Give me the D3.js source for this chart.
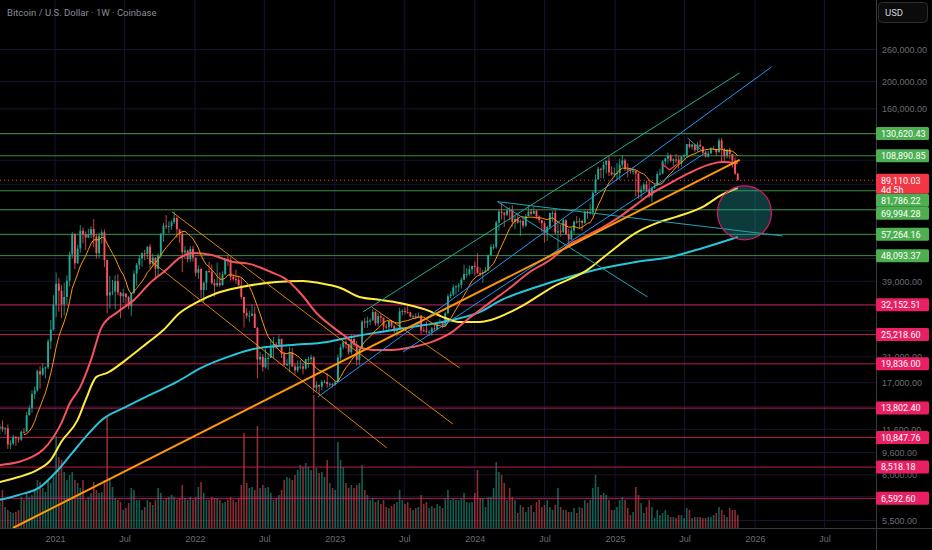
<!DOCTYPE html>
<meta charset="utf-8">
<style>
body{margin:0;background:#000;}
svg{display:block;font-family:Roboto,"Liberation Sans",Arial,sans-serif;}
.axis path,.axis line{display:none;}
.axis text{fill:#6a6d78;font-size:9px;}
</style>
<svg width="932" height="550"></svg>
<script src="https://d3js.org/d3.v7.min.js"></script>
<script>
// ---- data (prices of candles in thousand USD, weekly bars from Mon 10 Aug 2020) ----
var title = "Bitcoin / U.S. Dollar · 1W · Coinbase";
var firstWeek = Date.UTC(2020, 7, 10);
var firstOpen = 11.7;
var closes = [
  11.85,11.65,11.70,10.25,10.33,10.93,10.77,10.67,11.38,11.37,
  13.03,13.80,15.48,15.96,18.68,18.18,19.15,19.27,23.85,26.27,
  32.20,38.20,36.07,32.26,34.28,39.20,48.60,57.50,45.20,50.97,
  59.00,57.35,55.80,57.06,59.80,56.20,49.00,56.60,58.20,46.40,
  34.70,35.60,35.80,39.00,35.60,34.50,35.30,34.25,31.80,35.40,
  41.50,44.60,47.00,49.00,48.80,51.75,45.00,47.30,43.20,48.20,
  57.50,61.50,61.30,61.30,63.30,65.50,59.70,57.30,49.40,50.10,
  46.70,50.80,47.30,41.80,43.10,36.30,38.50,42.40,42.20,38.40,
  37.70,38.40,37.80,41.30,46.80,46.40,40.40,39.70,39.50,37.70,
  34.30,30.10,29.40,29.40,29.90,26.60,20.55,21.00,19.30,20.80,
  20.80,22.60,23.30,23.20,24.30,21.50,19.60,19.80,21.80,19.40,
  18.80,19.40,19.40,19.07,20.60,20.60,20.90,16.30,16.70,16.45,
  17.10,17.10,16.80,16.84,16.70,17.10,20.90,22.70,23.70,23.30,
  21.80,24.30,23.20,20.50,22.40,28.00,27.80,28.20,28.30,30.30,
  27.60,29.30,28.90,26.90,26.75,28.10,27.10,25.90,26.30,30.50,
  30.60,30.30,30.20,29.20,29.30,29.00,29.40,26.10,26.00,25.80,
  25.80,26.50,26.30,27.90,27.90,27.10,30.00,34.50,35.00,37.10,
  37.40,37.80,39.50,41.40,41.40,43.00,44.20,43.90,41.70,41.60,
  42.00,42.60,48.30,51.60,51.70,63.10,68.90,68.30,67.20,69.60,
  69.40,63.40,64.90,63.10,63.90,61.50,66.30,69.00,67.80,69.30,
  66.20,64.30,62.70,58.20,60.80,68.20,68.20,58.10,58.70,58.40,
  64.20,57.30,54.90,59.10,63.60,63.30,63.90,62.90,69.00,68.00,
  68.70,80.40,89.80,97.90,97.30,101.20,104.50,95.20,93.40,94.40,
  94.50,101.30,104.80,97.70,97.50,96.10,96.30,94.20,80.70,82.60,
  86.10,82.40,78.40,83.70,85.00,93.80,94.30,104.10,106.50,109.00,
  104.60,105.70,105.60,102.20,108.40,109.20,119.80,117.30,119.40,114.20,
  119.30,117.40,111.80,108.30,111.10,115.30,115.30,112.10,123.50,115.20,
  108.60,114.60,110.60,104.70,94.20,89.11
];
var highs = [
  12.08,12.48,11.80,12.09,10.60,11.10,10.96,10.95,11.49,11.72,
  13.35,14.10,15.97,16.48,18.96,19.48,19.92,19.42,24.30,28.40,
  34.80,41.95,40.10,37.85,38.50,41.00,49.70,58.35,57.50,52.60,
  61.80,60.60,58.60,60.00,61.20,64.90,57.50,58.00,59.50,59.60,
  46.60,40.80,39.40,40.90,41.30,35.70,36.60,35.10,34.60,35.50,
  42.60,45.30,48.10,49.40,50.50,51.90,52.90,48.80,47.40,49.00,
  57.80,62.90,67.00,63.70,64.30,69.00,66.40,59.40,59.20,51.90,
  50.50,52.00,52.10,47.50,44.40,43.50,38.90,42.60,45.80,44.70,
  39.70,45.40,42.00,42.30,47.00,48.20,47.40,41.50,42.90,40.80,
  40.00,34.30,31.30,30.60,32.40,31.70,26.80,21.90,21.50,22.50,
  21.60,24.30,24.70,23.70,25.20,24.40,21.90,20.60,22.80,22.60,
  19.90,20.40,20.50,19.95,20.70,21.00,21.40,21.10,17.20,16.70,
  17.40,17.40,18.40,17.00,16.95,17.20,21.40,23.30,23.90,24.25,
  23.40,25.20,25.10,23.90,22.60,28.40,28.90,29.20,28.80,31.00,
  30.50,30.00,29.80,29.00,27.50,28.30,28.40,27.10,26.80,31.40,
  31.00,31.50,31.80,30.40,29.70,30.00,30.20,29.70,26.80,28.10,
  26.10,26.80,27.50,28.00,28.60,28.00,30.30,35.20,35.90,38.00,
  37.90,38.40,40.20,44.70,43.40,44.40,44.30,45.90,49.00,43.60,
  42.80,43.90,48.60,52.80,52.90,64.00,70.10,73.80,68.90,71.60,
  71.40,72.70,66.80,67.20,64.70,65.50,67.50,71.90,70.60,71.90,
  70.00,66.90,64.50,63.80,61.40,68.30,69.40,70.00,62.70,61.80,
  65.00,64.90,59.80,60.70,64.10,66.50,65.60,64.50,69.40,69.50,
  73.60,81.50,93.50,99.50,98.90,104.00,105.20,108.30,99.90,99.00,
  102.70,106.40,109.60,106.50,102.50,98.80,99.50,96.50,95.00,85.30,
  87.50,88.70,88.50,84.70,86.40,95.80,97.90,105.00,107.10,111.90,
  110.40,106.80,110.60,108.90,108.50,110.60,119.90,123.20,120.20,119.80,
  122.30,124.40,117.60,113.40,113.40,116.70,117.90,113.40,125.70,126.20,
  116.00,114.80,116.40,110.70,107.40,94.70
];
var lows = [
  11.15,11.38,11.10,9.88,9.88,10.20,10.13,10.40,10.53,11.20,
  11.42,12.97,13.29,14.85,15.79,16.20,18.00,17.60,19.00,22.35,
  26.00,29.00,30.40,28.85,29.50,32.30,37.40,47.00,43.00,44.95,
  49.20,53.20,50.30,55.50,55.50,51.50,47.00,47.10,53.00,43.80,
  30.00,31.20,34.80,31.00,34.80,28.80,32.70,32.10,31.00,29.30,
  35.20,37.60,42.90,43.90,46.30,46.80,43.00,44.00,39.60,40.70,
  47.20,53.90,59.80,57.80,59.40,62.30,55.60,53.30,42.00,46.80,
  45.50,45.60,45.80,40.60,39.70,34.00,32.90,36.30,41.70,37.90,
  34.30,37.20,37.20,37.60,40.90,44.20,39.20,39.20,38.20,37.60,
  33.70,26.70,28.70,28.00,29.30,26.60,17.60,19.70,18.60,19.10,
  18.90,20.80,20.80,22.40,22.70,20.80,19.60,19.50,18.50,19.30,
  18.20,18.50,19.00,18.19,18.90,19.20,20.10,15.60,15.80,15.50,
  16.00,16.90,16.30,16.40,16.35,16.60,17.10,20.40,22.30,22.50,
  21.40,21.40,22.80,19.60,19.60,21.90,26.60,26.60,27.20,28.20,
  27.10,26.90,27.70,25.80,26.30,26.10,26.60,25.40,24.80,26.30,
  29.50,29.70,29.90,29.00,28.90,28.60,28.80,25.20,25.80,25.40,
  24.90,24.90,26.00,26.10,27.20,26.50,26.90,29.90,33.90,34.50,
  34.90,35.70,36.70,39.30,40.20,40.80,41.50,40.80,41.50,40.60,
  38.50,41.90,42.30,47.80,50.50,50.90,59.00,64.60,60.80,66.50,
  64.50,61.00,59.60,62.50,56.50,60.20,60.80,66.70,66.70,67.50,
  65.00,63.00,58.40,53.50,54.30,59.60,63.50,57.20,49.10,56.10,
  57.90,57.10,52.60,54.60,57.50,62.50,59.80,58.90,62.40,65.10,
  67.40,66.80,80.00,89.40,90.80,90.50,94.20,92.20,92.50,91.50,
  89.20,89.30,99.50,96.20,91.20,94.10,93.40,78.20,76.60,76.60,
  81.20,81.60,77.10,74.50,83.10,85.10,92.80,93.40,100.80,102.00,
  103.10,100.40,102.70,98.20,99.60,105.20,107.50,115.70,114.70,112.00,
  112.60,116.80,110.60,107.30,107.30,110.70,114.30,108.60,111.80,103.00,
  103.50,106.70,106.30,98.90,93.00,89.00
];
// weekly volume, thousand BTC
var volumes = [
  26,38,21,18,16,15,16,18,31,28, 36,31,33,38,48,46,40,36,48,45,
  51,92,71,68,56,48,53,56,48,45, 40,48,28,31,35,46,38,35,36,48,
  113,48,41,30,28,26,18,20,25,40, 38,28,28,18,21,28,26,23,28,40,
  35,28,30,31,33,31,28,30,43,30, 28,31,28,31,41,46,35,28,28,31,
  30,30,28,25,26,28,31,28,26,30, 43,95,45,40,41,38,102,40,43,40,
  41,35,28,30,33,38,48,51,50,48, 53,58,63,61,65,61,58,133,60,55,
  56,51,68,45,40,38,86,68,61,45, 40,43,40,43,45,63,38,33,28,30,
  26,28,24,28,21,20,22,24,26,38, 28,24,26,20,18,20,21,33,24,26,
  20,22,20,24,22,20,30,38,28,30, 28,28,30,35,26,25,26,35,58,30,
  30,21,31,31,40,66,56,53,45,28, 40,31,28,15,23,21,16,21,23,16,
  26,28,21,23,28,21,18,23,40,21, 18,18,16,16,20,15,21,20,28,25,
  28,40,53,41,33,35,33,28,18,18, 21,28,31,28,20,13,16,41,33,25,
  15,21,28,21,10,18,13,15,18,13, 11,11,10,13,13,10,20,18,10,11,
  11,11,10,10,11,11,13,15,21,18, 13,11,20,18,18,13
];

// moving averages: [week index, price USD]
var ma50 = [[0,8670],[7,8880],[12,9260],[16,9800],[20,10900],[23,12230],[26,14300],[30,16420],[34,20490],[38,26840],[44,30350],[50,33470],[56,38450],[62,42790],[67,47190],[72,49170],[79,48340],[87,45660],[93,44950],[101,42070],[107,39420],[112,35430],[118,30080],[124,26840],[129,24720],[134,22780],[139,22220],[146,22220],[154,22780],[161,23730],[168,25550],[175,28870],[183,32940],[190,36910],[197,41730],[205,46400],[212,52470],[219,56800],[225,60840],[231,66040],[237,72840],[242,79060],[250,87200],[257,94650],[264,101100],[269,103600],[275,102500]];
var ma100 = [[0,7540],[7,7850],[14,8320],[19,9030],[23,10500],[29,12530],[32,14760],[36,17820],[40,18410],[47,20490],[55,23540],[61,26170],[67,30080],[73,32650],[81,35430],[90,37200],[103,38760],[113,39110],[119,38450],[127,36910],[134,34280],[142,33470],[149,32650],[159,30840],[166,28870],[171,27960],[179,27960],[183,28410],[194,31620],[206,37200],[219,42790],[227,49170],[237,57930],[245,62880],[252,66040],[262,71680],[269,79060],[275,83700]];
var ma200 = [[0,6510],[7,6780],[15,7230],[21,8180],[27,9570],[32,10900],[38,12530],[47,13940],[56,15380],[66,17100],[75,19180],[85,20990],[93,22220],[97,22600],[109,23150],[122,23730],[131,24720],[142,25760],[154,26840],[165,27960],[179,30350],[187,33470],[200,37200],[212,40380],[225,43480],[237,45660],[250,47570],[262,51220],[275,56050]];

// drawn trend lines: [[week, price], [week, price]]
var supportLine = [[4.9,5172],[275.7,105290]];
var fallLines = [[[64.1,68900],[168.8,12120]],[[55.9,46360],[144.2,9970]],[[138.6,31570],[171.4,19170]]];
var channelTop = [[135.3,30330],[275.7,214700]];
var channelLines = [[[118.5,15110],[287.6,225500]],[[150.2,21850],[263.4,112400]]];
var rangeLines = [[[185.5,74800],[241.4,34280]],[[185.5,74800],[291.7,56500]],[[256.3,126000],[261.5,114000]]];
var vMark = [[246.6,102000],[249.6,97100],[252.6,102000]];
var targetZone = [277.5, 68300];

// horizontal levels
var greenLevels = [130620.43, 108890.85, 81786.22, 69994.28, 57264.16, 48093.37];
var redLevels = [32152.51, 25218.60, 19836.00, 13802.40, 10847.76, 8518.18, 6592.60];
var lastPrice = 89110.03;
var countdown = "4d 5h";

var priceTicks = [260000,200000,160000,130000,105000,86000,70000,57000,47000,39000,32000,26000,21000,17000,14000,11600,9600,8000,6700,5500];
var timeTicks = [[2021,0],[2021,6],[2022,0],[2022,6],[2023,0],[2023,6],[2024,0],[2024,6],[2025,0],[2025,6],[2026,0],[2026,6]];

// ---- chart ----
var svg = d3.select("svg"),
    width = +svg.attr("width"),
    height = +svg.attr("height"),
    plotW = 876, plotH = 528;

var x = d3.scaleUtc()
    .domain([new Date(Date.UTC(2021,0,1)), new Date(Date.UTC(2026,0,1))])
    .range([55, 755]);
var y = d3.scaleLog().domain([5500, 260000]).range([520.5, 49.5]);
var vy = d3.scaleLinear().domain([0, 133]).range([plotH, 395]);

function weekDate(i){ return new Date(firstWeek + i * 7 * 864e5); }
function px(p){ return x(weekDate(p[0])); }
function py(p){ return y(p[1]); }

var upCol = "#22ab94", downCol = "#f7525f";
var fmt = d3.format(",.2f");

svg.append("rect").attr("width", width).attr("height", height).attr("fill", "#000");

svg.append("clipPath").attr("id", "plot")
  .append("rect").attr("width", plotW).attr("height", plotH);
var g = svg.append("g").attr("clip-path", "url(#plot)");

// grid
var tickDates = timeTicks.map(function(t){ return new Date(Date.UTC(t[0], t[1], 1)); });
g.selectAll(".vgrid").data(tickDates).enter().append("line")
    .attr("x1", function(d){ return x(d); }).attr("x2", function(d){ return x(d); })
    .attr("y1", 0).attr("y2", plotH)
    .attr("stroke", "#17152c");
g.selectAll(".hgrid").data(priceTicks).enter().append("line")
    .attr("x1", 0).attr("x2", plotW)
    .attr("y1", function(d){ return y(d); }).attr("y2", function(d){ return y(d); })
    .attr("stroke", "#17152c");

var candles = closes.map(function(c, i){
    return {i: i, o: i ? closes[i-1] : firstOpen, h: highs[i], l: lows[i], c: c, v: volumes[i]};
});

// volume
g.selectAll(".vol").data(candles).enter().append("rect")
    .attr("x", function(d){ return x(weekDate(d.i)) - 0.8; })
    .attr("width", 1.6)
    .attr("y", function(d){ return vy(d.v); })
    .attr("height", function(d){ return plotH - vy(d.v); })
    .attr("fill", function(d){ return d.c >= d.o ? "rgba(34,171,148,0.55)" : "rgba(247,82,95,0.55)"; });

// horizontal levels
function levelLines(levels, col){
    g.selectAll(null).data(levels).enter().append("line")
        .attr("x1", 0).attr("x2", plotW)
        .attr("y1", function(d){ return y(d); }).attr("y2", function(d){ return y(d); })
        .attr("stroke", col).attr("stroke-opacity", 0.8).attr("stroke-width", 1);
}
levelLines(greenLevels, "#4caf50");
levelLines(redLevels, "#e91e63");

// candles
var cg = g.append("g");
cg.selectAll(".wick").data(candles).enter().append("line")
    .attr("x1", function(d){ return x(weekDate(d.i)); })
    .attr("x2", function(d){ return x(weekDate(d.i)); })
    .attr("y1", function(d){ return y(d.h * 1000); })
    .attr("y2", function(d){ return y(d.l * 1000); })
    .attr("stroke", function(d){ return d.c >= d.o ? upCol : downCol; })
    .attr("stroke-width", 0.8);
cg.selectAll(".body").data(candles).enter().append("rect")
    .attr("x", function(d){ return x(weekDate(d.i)) - 0.95; })
    .attr("width", 1.9)
    .attr("y", function(d){ return y(Math.max(d.o, d.c) * 1000); })
    .attr("height", function(d){ return Math.max(1, Math.abs(y(d.o * 1000) - y(d.c * 1000))); })
    .attr("fill", function(d){ return d.c >= d.o ? upCol : downCol; });

// moving averages
var curve = d3.line().x(px).y(py).curve(d3.curveMonotoneX);
g.append("path").attr("d", curve(ma200)).attr("fill", "none").attr("stroke", "#26c6da").attr("stroke-width", 2);
g.append("path").attr("d", curve(ma100)).attr("fill", "none").attr("stroke", "#ffeb3b").attr("stroke-width", 2);
g.append("path").attr("d", curve(ma50)).attr("fill", "none").attr("stroke", "#f7525f").attr("stroke-width", 2);

// short average of the weekly closes
var sma10 = candles.map(function(d){
    return d.i < 9 ? null : [d.i, d3.mean(closes.slice(d.i - 9, d.i + 1)) * 1000];
}).filter(function(d){ return d; });
g.append("path").attr("d", d3.line().x(px).y(py)(sma10))
    .attr("fill", "none").attr("stroke", "#ff9800").attr("stroke-width", 1);

// drawings
var seg = d3.line().x(px).y(py);
function drawLine(pts, col, w, op){
    g.append("path").attr("d", seg(pts)).attr("fill", "none")
        .attr("stroke", col).attr("stroke-width", w).attr("stroke-opacity", op || 1);
}
fallLines.forEach(function(l){ drawLine(l, "#ff9800", 1, 0.85); });
drawLine(channelTop, "#22ab94", 1);
channelLines.forEach(function(l){ drawLine(l, "#2196f3", 1); });
rangeLines.forEach(function(l){ drawLine(l, "#22a3b8", 1); });
drawLine(vMark, "#f23645", 1.4);
drawLine(supportLine, "#ff9800", 2);

g.append("circle")
    .attr("cx", px(targetZone)).attr("cy", py(targetZone)).attr("r", 27)
    .attr("fill", "rgba(38,166,170,0.35)")
    .attr("stroke", "#d81b60").attr("stroke-width", 1.2);

// last price line
g.append("line")
    .attr("x1", 0).attr("x2", plotW)
    .attr("y1", y(lastPrice)).attr("y2", y(lastPrice))
    .attr("stroke", "#f23645").attr("stroke-dasharray", "1,3");

// price labels on the axis, pushed down when they overlap
var labels = greenLevels.map(function(v){ return {v: v, col: "#4caf50", lines: [fmt(v)]}; })
    .concat(redLevels.map(function(v){ return {v: v, col: "#e91e63", lines: [fmt(v)]}; }))
    .concat([{v: lastPrice, col: "#f23645", lines: [fmt(lastPrice), countdown]}]);
labels.sort(function(a, b){ return y(a.v) - y(b.v); });
var prevBottom = -1e9;
labels.forEach(function(d){
    d.top = Math.max(y(d.v) - 6.5, prevBottom);
    d.h = d.lines.length > 1 ? 20 : 13;
    prevBottom = d.top + d.h;
});

// tick labels mostly hidden under a price label are left out
var shownTicks = priceTicks.filter(function(t){
    var ty = y(t);
    return !labels.some(function(d){
        return Math.min(ty + 4, d.top + d.h) - Math.max(ty - 4, d.top) >= 5;
    });
});

// axes
svg.append("g").attr("class", "axis")
    .attr("transform", "translate(0," + plotH + ")")
    .call(d3.axisBottom(x).tickValues(tickDates).tickSize(0).tickPadding(8)
        .tickFormat(function(d){ return d.getUTCMonth() === 0 ? d.getUTCFullYear() : "Jul"; }));
svg.append("g").attr("class", "axis")
    .attr("transform", "translate(" + plotW + ",0)")
    .call(d3.axisRight(y).tickValues(shownTicks).tickSize(0).tickPadding(6).tickFormat(fmt));

svg.append("line").attr("x1", plotW + 0.5).attr("x2", plotW + 0.5).attr("y1", 0).attr("y2", height)
    .attr("stroke", "#363a45");
svg.append("line").attr("x1", 0).attr("x2", width).attr("y1", plotH + 0.5).attr("y2", plotH + 0.5)
    .attr("stroke", "#363a45");

var lab = svg.selectAll(".lab").data(labels).enter().append("g");
lab.append("rect")
    .attr("x", plotW).attr("y", function(d){ return d.top; })
    .attr("width", 53).attr("height", function(d){ return d.h; })
    .attr("rx", 1.5).attr("fill", function(d){ return d.col; });
lab.each(function(d){
    var el = d3.select(this);
    d.lines.forEach(function(t, k){
        el.append("text").attr("x", plotW + 5).attr("y", d.top + 9.8 + k * 9.5)
            .attr("fill", "#fff").attr("font-size", "9px").text(t);
    });
});

// USD button and title
svg.append("rect").attr("x", 878.5).attr("y", 2.5).attr("width", 49).attr("height", 20).attr("rx", 4)
    .attr("fill", "#0b0b0b").attr("stroke", "#2e2e2e");
svg.append("text").attr("x", 885).attr("y", 16).attr("fill", "#d1d4dc").attr("font-size", "9.5px").text("USD");
svg.append("text").attr("x", 7).attr("y", 15.5).attr("fill", "#8a8c94").attr("font-size", "9.5px").text(title);
</script>
